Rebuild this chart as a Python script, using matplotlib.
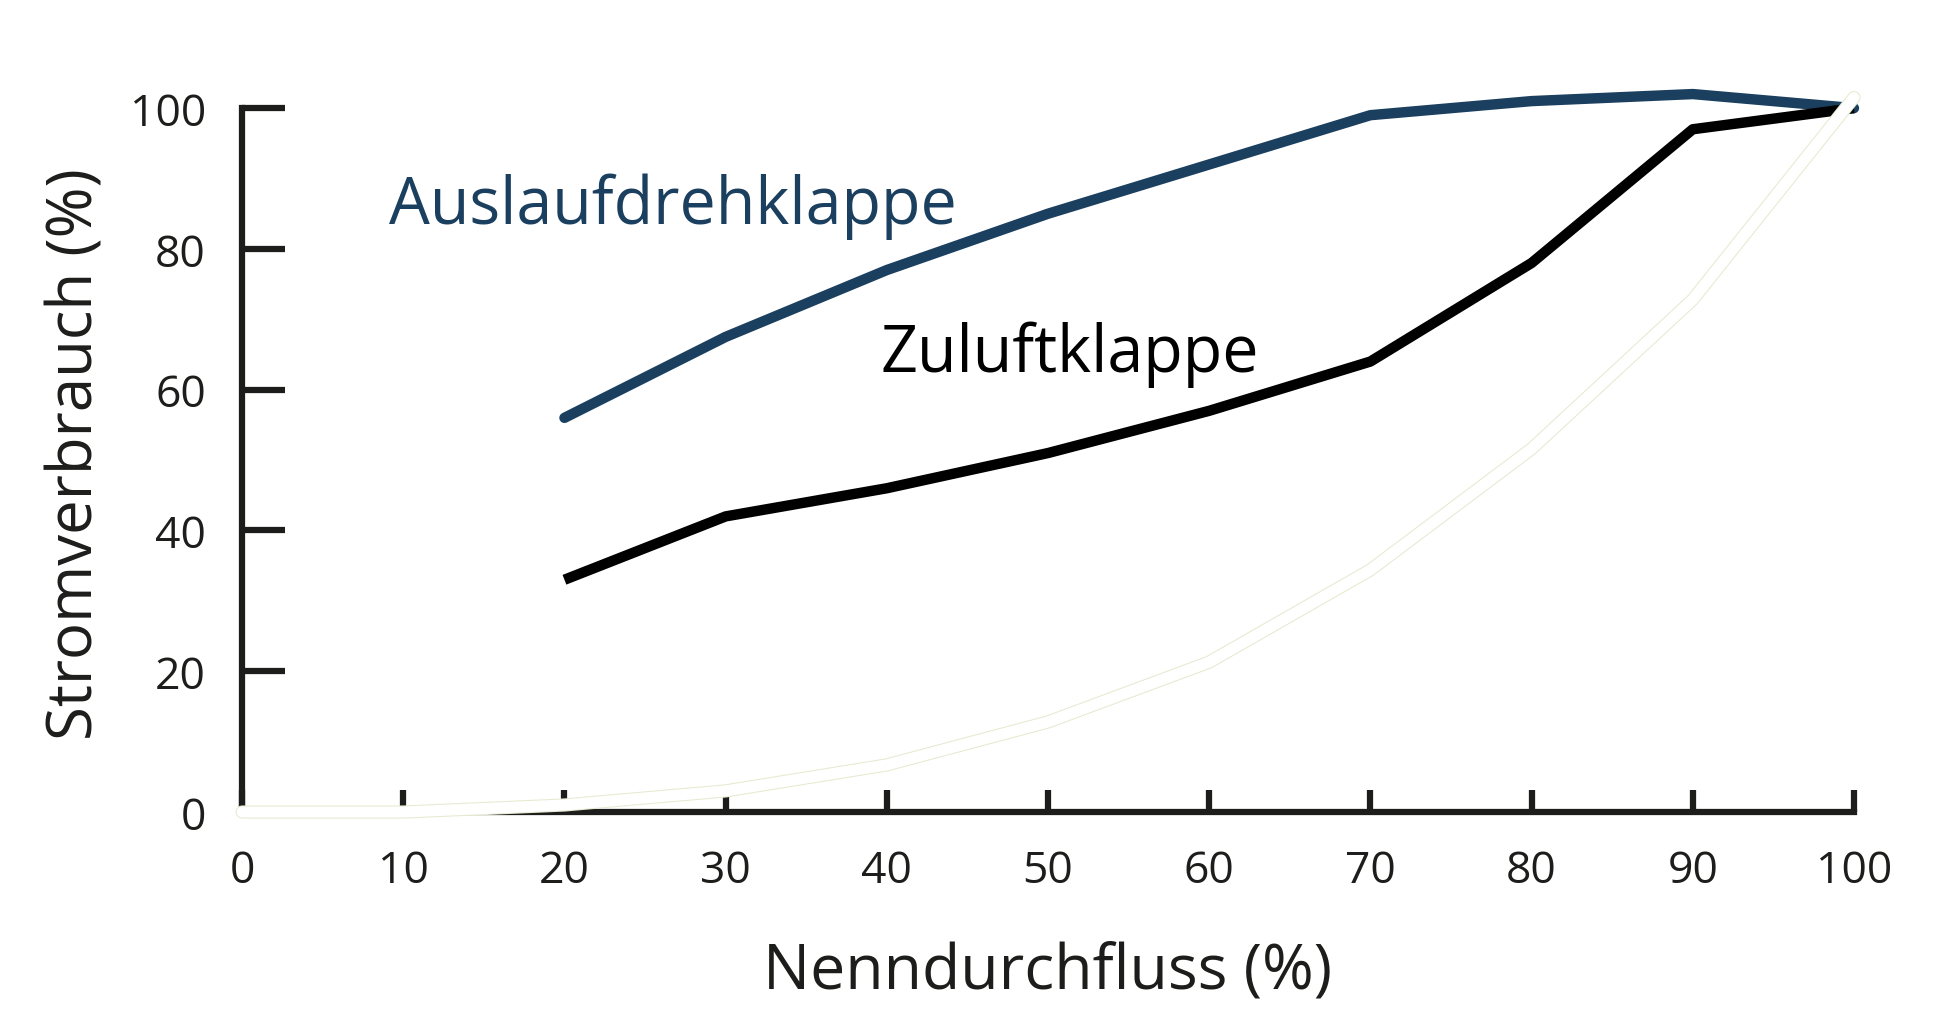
import matplotlib
matplotlib.use("Agg")
import matplotlib.pyplot as plt

plt.rcParams['font.family'] = ['Open Sans', 'DejaVu Sans']

# Nenndurchfluss (%)
durchfluss = [0, 10, 20, 30, 40, 50, 60, 70, 80, 90, 100]
kurve_x = [20, 30, 40, 50, 60, 70, 80, 90, 100]

# Stromverbrauch (%)
auslauf = [56, 67.5, 77, 85, 92, 99, 101, 102, 100]
zuluft = [33, 42, 46, 51, 57, 64, 78, 97, 100]
ideal = [0, 0, 1, 3, 6.7, 12.8, 21.3, 34.4, 51.6, 72.8, 101.5]

x_ticks = [0, 10, 20, 30, 40, 50, 60, 70, 80, 90, 100]
y_ticks = [0, 20, 40, 60, 80, 100]

dunkel = '#1d1d1b'
blau = '#1b3f5f'

fig = plt.figure(figsize=(19.46, 10.20), dpi=100)
ax = fig.add_axes([0.1244, 0.2029, 0.8283, 0.6901])

ax.plot(kurve_x, auslauf, color=blau, lw=7.5, solid_capstyle='round', clip_on=False, zorder=3)
ax.plot(kurve_x, zuluft, color='black', lw=7.5, solid_capstyle='butt', clip_on=False, zorder=3)
# hellgrüne Doppellinie (Umriss mit weißem Inneren)
ax.plot(durchfluss, ideal, color='#e3ebd0', lw=9.5, solid_capstyle='round', clip_on=False, zorder=4)
ax.plot(durchfluss, ideal, color='white', lw=8.0, solid_capstyle='round', clip_on=False, zorder=4)

ax.set_xlim(0, 100)
ax.set_ylim(0, 100)
ax.set_xticks(x_ticks)
ax.set_yticks(y_ticks)

for s in ['top', 'right']:
    ax.spines[s].set_visible(False)
for s in ['left', 'bottom']:
    ax.spines[s].set_linewidth(4.5)
    ax.spines[s].set_color(dunkel)

ax.tick_params(axis='y', direction='in', length=31, width=4.5, color=dunkel,
               labelsize=32, labelcolor=dunkel, pad=26)
ax.tick_params(axis='x', direction='in', length=16, width=4.5, color=dunkel,
               labelsize=32, labelcolor=dunkel, pad=26)

ax.set_xlabel('Nenndurchfluss (%)', fontsize=45, color=dunkel, labelpad=34)
ax.set_ylabel('Stromverbrauch (%)', fontsize=44.5, color=dunkel, labelpad=16, y=0.51)

ax.text(9.1, 86.1, 'Auslaufdrehklappe', color=blau, fontsize=46.5, va='center', ha='left')
ax.text(39.6, 65.1, 'Zuluftklappe', color='black', fontsize=46.5, va='center', ha='left')

fig.savefig('out.png', dpi=100, facecolor='white')
